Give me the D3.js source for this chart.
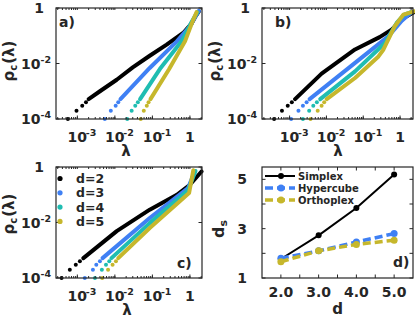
<!DOCTYPE html>
<html lang="en">
<head>
<meta charset="UTF-8">
<title>Spectral density panels</title>
<script src="https://d3js.org/d3.v7.min.js"></script>
<style>
  body { margin: 0; background: #fff; }
  text { font-family: "DejaVu Sans", sans-serif; font-weight: bold; fill: #262626; }
</style>
</head>
<body>
<svg id="fig" width="415" height="318"></svg>
<script>
// ---- data ----
var dims = ["d=2", "d=3", "d=4", "d=5"];
var colors = ["#000000", "#3f80f4", "#1fbdb2", "#c6b72c"];
var lamTicks = [1e-3, 1e-2, 1e-1, 1];
var rhoTicks = [1e-4, 1e-2, 1];
// the first few (isolated) points of every curve sit at rho = k/N
var headRho = [1e-4, 2e-4, 3e-4, 4e-4];

// panel a
var aHeadLam = [
  [5.6e-4, 9.5e-4, 1.35e-3, 1.7e-3],
  [5.4e-3, 7.8e-3, 1.05e-2, 1.23e-2],
  [2.14e-2, 2.8e-2, 3.5e-2, 4.1e-2],
  [4.9e-2, 5.9e-2, 7.1e-2, 7.9e-2]
];
var aBody = [
  [[2.0e-3, 5.2e-4], [4.0e-3, 1.0e-3], [1.12e-2, 2.6e-3], [3.0e-2, 7.2e-3], [8.5e-2, 1.9e-2], [0.24, 4.8e-2], [0.66, 0.126], [1.12, 0.28], [1.41, 0.5], [1.74, 0.76]],
  [[1.41e-2, 5.2e-4], [8.5e-2, 6.9e-3], [0.45, 6.3e-2], [1.0, 0.22], [1.51, 0.58], [1.74, 0.79]],
  [[4.7e-2, 5.2e-4], [0.158, 6.3e-3], [0.6, 6.3e-2], [1.12, 0.32], [1.58, 0.71]],
  [[8.9e-2, 5.2e-4], [0.28, 6.3e-3], [0.74, 6.3e-2], [1.2, 0.35], [1.51, 0.71]]
];

// panel b
var bHeadLam = [
  [3.8e-4, 6.2e-4, 8.9e-4, 1.15e-3],
  [1.1e-3, 1.74e-3, 2.3e-3, 2.9e-3],
  [2.3e-3, 3.4e-3, 4.4e-3, 5.5e-3],
  [3.7e-3, 5.8e-3, 7.4e-3, 8.7e-3]
];
var bBody = [
  [[1.41e-3, 5.2e-4], [7.4e-3, 4.3e-3], [6.0e-2, 3.2e-2], [0.28, 8.9e-2], [0.59, 0.166], [1.26, 0.44], [2.3, 0.69]],
  [[3.5e-3, 5.2e-4], [6.0e-2, 1.05e-2], [0.48, 9.5e-2], [1.12, 0.35], [2.0, 0.69]],
  [[6.8e-3, 5.2e-4], [6.0e-2, 5.2e-3], [0.39, 5.5e-2], [0.81, 0.29], [1.26, 0.56], [2.0, 0.71]],
  [[1.02e-2, 5.2e-4], [6.0e-2, 3.0e-3], [0.26, 1.8e-2], [0.355, 3.2e-2], [0.72, 0.22], [1.23, 0.58], [2.4, 0.76]]
];

// panel c
var cHeadLam = [
  [3.8e-4, 6.3e-4, 9.1e-4, 1.17e-3],
  [1.58e-3, 2.6e-3, 3.2e-3, 4.0e-3],
  [2.95e-3, 4.5e-3, 5.8e-3, 7.1e-3],
  [4.6e-3, 6.6e-3, 8.7e-3, 1.07e-2]
];
var cBody = [
  [[1.45e-3, 5.2e-4], [1.12e-2, 4.9e-3], [8.5e-2, 2.9e-2], [0.45, 0.1], [1.0, 0.23], [2.04, 0.69]],
  [[4.7e-3, 5.2e-4], [8.5e-2, 1.45e-2], [0.89, 0.174], [1.35, 0.69]],
  [[8.1e-3, 5.2e-4], [8.5e-2, 9.5e-3], [0.89, 0.145], [1.41, 0.72]],
  [[1.23e-2, 5.2e-4], [8.5e-2, 6.3e-3], [0.95, 0.115], [1.23, 0.76]]
];

// panel d
var polytopes = ["Simplex", "Hypercube", "Orthoplex"];
var dVals = [2, 3, 4, 5];
var dsSimplex = [1.77, 2.73, 3.84, 5.2];
var dsHypercube = [1.8, 2.1, 2.46, 2.8];
var dsOrthoplex = [1.66, 2.1, 2.36, 2.53];
var dTicks = [2, 3, 4, 5];
var dsTicks = [1, 3, 5];

var svg = d3.select("#fig");
var ink = "#262626";

function logPanel(box, xDom, headLam, body, tag, tagPos, xLabPos, yLabPos) {
  var x = d3.scaleLog().domain(xDom).range([box.x0, box.x1]);
  var y = d3.scaleLog().domain([1e-4, 1]).range([box.y1, box.y0]);
  var g = svg.append("g");

  var clipId = "clip" + tag;
  svg.append("clipPath").attr("id", clipId).append("rect")
    .attr("x", box.x0).attr("y", box.y0 - 3).attr("width", box.x1 - box.x0 + 2).attr("height", box.y1 - box.y0 + 5);
  var plot = g.append("g").attr("clip-path", "url(#" + clipId + ")");

  var line = d3.line().x(function(d) { return x(d[0]); }).y(function(d) { return y(d[1]); });

  body.forEach(function(s, i) {
    plot.append("path").attr("d", line(s)).attr("fill", "none")
      .attr("stroke", colors[i]).attr("stroke-width", 4)
      .attr("stroke-linecap", "round").attr("stroke-linejoin", "round");
    plot.selectAll(null).data(headLam[i]).enter().append("circle")
      .attr("cx", function(d) { return x(d); })
      .attr("cy", function(d, k) { return y(headRho[k]); })
      .attr("r", 2).attr("fill", colors[i]);
  });

  // minor ticks on the log x axis (top and bottom)
  var minor = x.ticks(40);
  [[box.y1, -2], [box.y0, 2]].forEach(function(p) {
    g.selectAll(null).data(minor).enter().append("line")
      .attr("x1", function(d) { return x(d); }).attr("x2", function(d) { return x(d); })
      .attr("y1", p[0]).attr("y2", p[0] + p[1])
      .attr("stroke", ink).attr("stroke-width", 1);
  });
  g.selectAll(null).data(lamTicks).enter().append("line")
    .attr("x1", function(d) { return x(d); }).attr("x2", function(d) { return x(d); })
    .attr("y1", box.y1).attr("y2", box.y1 - 3.5)
    .attr("stroke", ink).attr("stroke-width", 1);
  [box.x0, box.x1].forEach(function(xx, j) {
    g.selectAll(null).data(rhoTicks).enter().append("line")
      .attr("x1", xx).attr("x2", xx + (j ? -3.5 : 3.5))
      .attr("y1", function(d) { return y(d); }).attr("y2", function(d) { return y(d); })
      .attr("stroke", ink).attr("stroke-width", 1);
  });

  g.append("rect").attr("x", box.x0).attr("y", box.y0)
    .attr("width", box.x1 - box.x0).attr("height", box.y1 - box.y0)
    .attr("fill", "none").attr("stroke", ink).attr("stroke-width", 1.2);

  // tick labels
  lamTicks.forEach(function(t) {
    var e = Math.round(Math.log10(t));
    var tx = x(t), ty = box.y1 + 23;
    if (e === 0) {
      g.append("text").attr("x", tx).attr("y", ty).attr("text-anchor", "middle").attr("font-size", 14).text("1");
    } else {
      g.append("text").attr("x", tx).attr("y", ty).attr("text-anchor", "middle").attr("font-size", 14).text("10");
      g.append("text").attr("x", tx + 8.5).attr("y", ty - 6).attr("font-size", 9.5).text(String(e));
    }
  });
  rhoTicks.forEach(function(t) {
    var e = Math.round(Math.log10(t));
    var tt = g.append("text").attr("y", y(t) + 5).attr("text-anchor", "end").attr("font-size", 14);
    if (e === 0) {
      tt.attr("x", box.x0 - 12).text("1");
    } else {
      tt.attr("x", box.x0 - 5);
      tt.append("tspan").text("10");
      tt.append("tspan").attr("dy", -6).attr("font-size", 9.5).text(String(e));
    }
  });

  // axis titles
  g.append("text").attr("x", xLabPos[0]).attr("y", xLabPos[1]).attr("text-anchor", "middle")
    .attr("font-size", 15).text("\u03bb");
  var yl = g.append("text").attr("transform", "translate(" + yLabPos[0] + "," + yLabPos[1] + ") rotate(-90)")
    .attr("text-anchor", "middle").attr("font-size", 15);
  yl.append("tspan").text("\u03c1");
  yl.append("tspan").attr("font-size", 10).attr("dy", 3).text("c");
  yl.append("tspan").attr("dy", -3).attr("dx", 1).text("(\u03bb)");

  g.append("text").attr("x", tagPos[0]).attr("y", tagPos[1]).attr("font-size", 14).text(tag + ")");
  return { x: x, y: y, g: g };
}

var boxA = { x0: 56, x1: 202, y0: 8, y1: 119 };
var boxB = { x0: 262, x1: 413, y0: 8, y1: 119 };
var boxC = { x0: 56, x1: 202, y0: 167, y1: 278 };
var boxD = { x0: 262, x1: 413, y0: 167, y1: 278 };

logPanel(boxA, [2.7e-4, 2.1], aHeadLam, aBody, "a", [59, 27], [126, 156], [13.5, 61]);
logPanel(boxB, [1.78e-4, 2.25], bHeadLam, bBody, "b", [275, 27], [338, 156], [220, 61]);
var pc = logPanel(boxC, [2.7e-4, 2.1], cHeadLam, cBody, "c", [177, 268], [127, 315], [13.5, 214]);

// legend of panel c
dims.forEach(function(name, i) {
  var ly = 178.5 + i * 14.3;
  pc.g.append("circle").attr("cx", 60).attr("cy", ly).attr("r", 2.6).attr("fill", colors[i]);
  pc.g.append("text").attr("x", 76).attr("y", ly + 4.5).attr("font-size", 12.5).attr("fill", "#000").text(name);
});

// ---- panel d ----
var xd = d3.scaleLinear().domain([1.5, 5.5]).range([boxD.x0, boxD.x1]);
var yd = d3.scaleLinear().domain([1, 5.5]).range([boxD.y1, boxD.y0]);
var gd = svg.append("g");
var series = [
  { name: polytopes[0], vals: dsSimplex, color: "#000000", width: 2, dash: null, r: 3 },
  { name: polytopes[1], vals: dsHypercube, color: "#3f80f4", width: 3.5, dash: "8,4", r: 3.5 },
  { name: polytopes[2], vals: dsOrthoplex, color: "#c6b72c", width: 3.5, dash: "8,4", r: 3.5 }
];
var dline = d3.line().x(function(d, i) { return xd(dVals[i]); }).y(function(d) { return yd(d); });
series.forEach(function(s) {
  gd.append("path").attr("d", dline(s.vals)).attr("fill", "none").attr("stroke", s.color)
    .attr("stroke-width", s.width).attr("stroke-dasharray", s.dash);
  gd.selectAll(null).data(s.vals).enter().append("circle")
    .attr("cx", function(d, i) { return xd(dVals[i]); }).attr("cy", function(d) { return yd(d); })
    .attr("r", s.r).attr("fill", s.color);
});
// ticks every 0.5 on x, every 1 on y, inside, both sides
d3.range(2, 5.01, 0.5).forEach(function(t) {
  gd.append("line").attr("x1", xd(t)).attr("x2", xd(t)).attr("y1", boxD.y1).attr("y2", boxD.y1 - 3.5).attr("stroke", ink);
  gd.append("line").attr("x1", xd(t)).attr("x2", xd(t)).attr("y1", boxD.y0).attr("y2", boxD.y0 + 3.5).attr("stroke", ink);
});
d3.range(1, 5.01, 1).forEach(function(t) {
  gd.append("line").attr("x1", boxD.x0).attr("x2", boxD.x0 + 3.5).attr("y1", yd(t)).attr("y2", yd(t)).attr("stroke", ink);
  gd.append("line").attr("x1", boxD.x1).attr("x2", boxD.x1 - 3.5).attr("y1", yd(t)).attr("y2", yd(t)).attr("stroke", ink);
});
gd.append("rect").attr("x", boxD.x0).attr("y", boxD.y0).attr("width", boxD.x1 - boxD.x0)
  .attr("height", boxD.y1 - boxD.y0).attr("fill", "none").attr("stroke", ink).attr("stroke-width", 1.2);
dTicks.forEach(function(t) {
  gd.append("text").attr("x", xd(t)).attr("y", boxD.y1 + 19).attr("text-anchor", "middle")
    .attr("font-size", 14).text(d3.format(".1f")(t));
});
dsTicks.forEach(function(t) {
  gd.append("text").attr("x", boxD.x0 - 15).attr("y", yd(t) + 5).attr("text-anchor", "end")
    .attr("font-size", 14).text(t);
});
gd.append("text").attr("x", 337.5).attr("y", 314).attr("text-anchor", "middle").attr("font-size", 15).text("d");
var dsl = gd.append("text").attr("transform", "translate(224,229) rotate(-90)").attr("text-anchor", "middle").attr("font-size", 16);
dsl.append("tspan").text("d");
dsl.append("tspan").attr("font-size", 11).attr("dy", 3).text("s");
gd.append("text").attr("x", 393).attr("y", 267).attr("font-size", 14).text("d)");

// legend of panel d
series.forEach(function(s, i) {
  var ly = 176 + i * 12;
  gd.append("line").attr("x1", 265).attr("x2", 295).attr("y1", ly).attr("y2", ly)
    .attr("stroke", s.color).attr("stroke-width", s.width).attr("stroke-dasharray", s.dash);
  gd.append("circle").attr("cx", 281).attr("cy", ly).attr("r", s.r).attr("fill", s.color);
  gd.append("text").attr("x", 298).attr("y", ly + 4).attr("font-size", 10).attr("fill", "#000").text(s.name);
});
</script>
</body>
</html>
